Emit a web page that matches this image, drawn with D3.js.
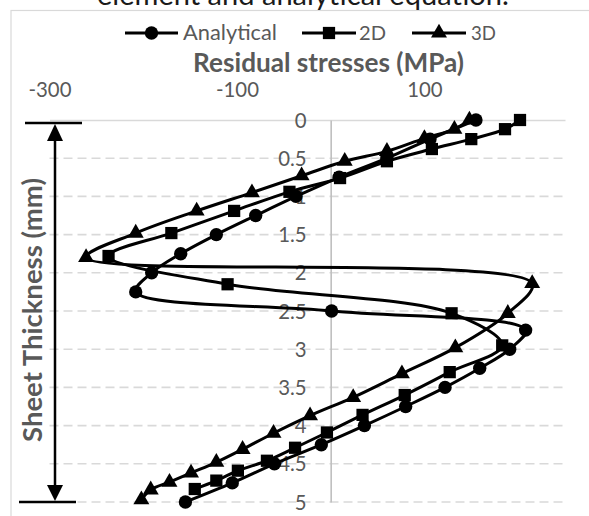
<!DOCTYPE html>
<html><head><meta charset="utf-8">
<script src="https://cdn.jsdelivr.net/npm/d3@7"></script>
<style>body{margin:0;background:#fff}svg{display:block}</style>
</head><body>
<svg id="chart" width="589" height="516"></svg>
<script>
// ---- data ----
const seriesNames = ["Analytical", "2D", "3D"];
const analyticalDepth = [0,0.25,0.5,0.75,1,1.25,1.5,1.75,2,2.25,2.5,2.75,3,3.25,3.5,3.75,4,4.25,4.5,4.75,5];
const analyticalStress = [155,106,60,9,-37,-80,-122,-160,-191,-208,1,208,191,159,122,80,36,-10,-60,-105,-155];
const depth2D = [0,0.12,0.25,0.38,0.54,0.76,0.94,1.19,1.48,1.78,2.15,2.53,2.95,3.30,3.60,3.86,4.09,4.29,4.46,4.59,4.72,4.83];
const stress2D = [202,186,150,108,60,10,-44,-103,-170,-237,-110,129,183,127,79,34,-4,-38,-68,-99,-122,-145];
const depth3D = [0,0.12,0.24,0.41,0.54,0.73,0.95,1.19,1.48,1.8,2.14,2.53,2.98,3.32,3.63,3.87,4.10,4.31,4.48,4.62,4.74,4.84,4.97];
const stress3D = [148,132,100,60,15,-31,-84,-143,-208,-261,215,189,133,76,24,-22,-61,-94,-122,-149,-172,-192,-202];
const xTickValues = [-300,-100,100];
const yTickValues = [0,0.5,1,1.5,2,2.5,3,3.5,4,4.5,5];
const titleText = "element and analytical equation.";
const xTitle = "Residual stresses (MPa)";
const yTitle = "Sheet Thickness (mm)";

const svg = d3.select("#chart");
const FONT = "Lato, 'Open Sans', sans-serif";
const GREY = "#595959";

const x = d3.scaleLinear().domain([-300, 250]).range([49.5, 565]);
const y = d3.scaleLinear().domain([0, 5]).range([120, 502]);

function fit(sel, target) {
  const w = sel.node().getComputedTextLength();
  const fs = parseFloat(sel.attr("font-size"));
  sel.attr("font-size", (fs * target / w).toFixed(2));
  return fs * target / w;
}

// chart area border
svg.append("rect").attr("x", 11).attr("y", 10.5).attr("width", 700).attr("height", 700)
  .attr("fill", "none").attr("stroke", "#d9d9d9").attr("stroke-width", 1.2);

// title (partially cut at top, as in the reference)
const t = svg.append("text").attr("x", 97).attr("y", 5).attr("font-family", FONT)
  .attr("font-size", 26).attr("fill", "#1a1a1a").text(titleText);
fit(t, 412);

// gridlines (dashed)
svg.append("g").selectAll("line").data(yTickValues.filter(d => d > 0)).join("line")
  .attr("x1", x.range()[0]).attr("x2", x.range()[1])
  .attr("y1", d => y(d)).attr("y2", d => y(d))
  .attr("stroke", "#d9d9d9").attr("stroke-width", 1.6).attr("stroke-dasharray", "9,5");

// x axis line at depth 0 (top)
const xAxis = d3.axisTop(x).tickValues(xTickValues).tickSize(0).tickPadding(0).tickFormat(d => String(d));
const gx = svg.append("g").attr("transform", `translate(0,${y(0)})`).call(xAxis);
gx.select(".domain").attr("stroke", "#d9d9d9").attr("stroke-width", 1.6);
gx.selectAll("text").attr("font-family", FONT).attr("font-size", 22).attr("fill", GREY)
  .attr("y", 97 - y(0)).attr("dy", 0);
const tickFs = fit(gx.selectAll("text").filter(d => d === -300), 43);
gx.selectAll("text").attr("font-size", tickFs.toFixed(2));

// y axis at stress 0
const yAxis = d3.axisLeft(y).tickValues(yTickValues).tickSize(0).tickPadding(24).tickFormat(d => String(d));
const gy = svg.append("g").attr("transform", `translate(${x(0)},0)`).call(yAxis);
gy.select(".domain").attr("stroke", "#bfbfbf").attr("stroke-width", 1.6);
gy.selectAll("text").attr("font-family", FONT).attr("font-size", tickFs.toFixed(2)).attr("fill", GREY)
  .attr("dy", "0.35em");

// axis titles
const xt = svg.append("text").attr("x", 328.5).attr("y", 72).attr("text-anchor", "middle")
  .attr("font-family", FONT).attr("font-weight", "bold").attr("font-size", 24).attr("fill", GREY).text(xTitle);
fit(xt, 271);
const yt = svg.append("text").attr("transform", "translate(42,310) rotate(-90)").attr("text-anchor", "middle")
  .attr("font-family", FONT).attr("font-weight", "bold").attr("font-size", 24).attr("fill", GREY).text(yTitle);
fit(yt, 264);

// thickness arrow annotation
const ann = svg.append("g").attr("stroke", "#000").attr("stroke-width", 2.5);
ann.append("line").attr("x1", 25).attr("x2", 82).attr("y1", 123).attr("y2", 123);
ann.append("line").attr("x1", 19).attr("x2", 76).attr("y1", 502).attr("y2", 502);
ann.append("line").attr("x1", 55).attr("x2", 55).attr("y1", 138).attr("y2", 488);
svg.append("path").attr("d", "M55,124 L47,141 L63,141 Z").attr("fill", "#000");
svg.append("path").attr("d", "M55,501 L47,485 L63,485 Z").attr("fill", "#000");

// series
const series = [
  {name: seriesNames[0], pts: analyticalDepth.map((d, i) => [analyticalStress[i], d]), sym: d3.symbolCircle, size: 140},
  {name: seriesNames[1], pts: depth2D.map((d, i) => [stress2D[i], d]), sym: d3.symbolSquare, size: 150},
  {name: seriesNames[2], pts: depth3D.map((d, i) => [stress3D[i], d]), sym: d3.symbolTriangle, size: 110}
];
const line = d3.line().x(p => x(p[0])).y(p => y(p[1])).curve(d3.curveCatmullRom.alpha(0.5));
const gs = svg.append("g");
series.forEach(s => {
  gs.append("path").attr("d", line(s.pts)).attr("fill", "none").attr("stroke", "#000").attr("stroke-width", 3);
});
series.forEach(s => {
  gs.append("g").selectAll("path").data(s.pts).join("path")
    .attr("transform", p => `translate(${x(p[0])},${y(p[1])})`)
    .attr("d", d3.symbol(s.sym, s.size)).attr("fill", "#000");
});

// legend
const legendX = [[125, 178, 183], [302, 356, 359], [412, 466, 471]];
const legendW = [94, 27, 25];
series.forEach((s, i) => {
  const [a, b, tx] = legendX[i];
  svg.append("line").attr("x1", a).attr("x2", b).attr("y1", 33).attr("y2", 33).attr("stroke", "#000").attr("stroke-width", 3);
  svg.append("path").attr("transform", `translate(${(a + b) / 2},33)`).attr("d", d3.symbol(s.sym, s.size)).attr("fill", "#000");
  const lt = svg.append("text").attr("x", tx).attr("y", 40).attr("font-family", FONT).attr("font-size", 22)
    .attr("fill", GREY).text(s.name);
  fit(lt, legendW[i]);
});
</script>
</body></html>
